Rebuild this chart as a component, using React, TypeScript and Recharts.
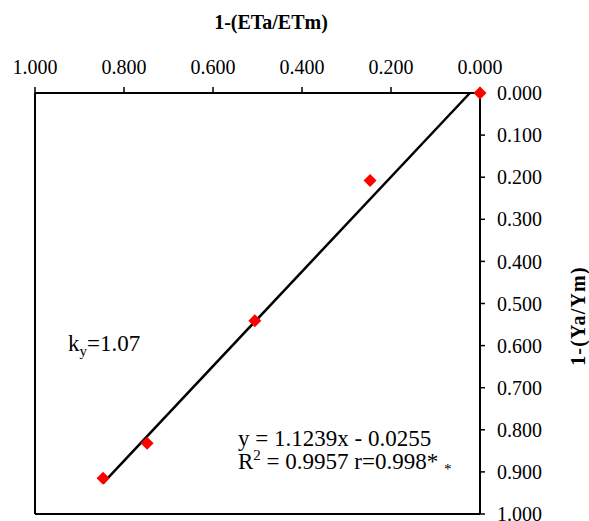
import { ScatterChart, Scatter, XAxis, YAxis, ReferenceLine } from "recharts"

// 1-(ETa/ETm) vs 1-(Ya/Ym)
const etDeficit = [0.0, 0.247, 0.506, 0.748, 0.847]
const yieldDeficit = [0.0, 0.208, 0.541, 0.832, 0.915]
const xTicks = [0, 0.2, 0.4, 0.6, 0.8, 1]
const yTicks = [0, 0.1, 0.2, 0.3, 0.4, 0.5, 0.6, 0.7, 0.8, 0.9, 1]

// Excel linear trendline coefficients
const slope = 1.1239
const intercept = -0.0255

const FONT = "'Liberation Serif', 'Times New Roman', serif"

const points = etDeficit.map((x, i) => ({ x, y: yieldDeficit[i] }))

// trend runs from the smallest to the largest x, clipped at the top of the plot (y = 0)
const xMin = Math.max(Math.min(...etDeficit), -intercept / slope)
const xMax = Math.max(...etDeficit)
const trend = [xMin, xMax].map((x) => ({ x, y: slope * x + intercept }))

const Diamond = (props: any) => {
  const { cx, cy } = props
  const r = 6.5
  return (
    <polygon
      points={`${cx},${cy - r} ${cx + r},${cy} ${cx},${cy + r} ${cx - r},${cy}`}
      fill="#ff0000"
    />
  )
}

const tickStyle = { fill: "#000", fontSize: 20, fontFamily: FONT }

export default function App() {
  return (
    <div
      style={{
        position: "absolute",
        left: 0,
        top: 0,
        width: 589,
        height: 521,
        overflow: "hidden",
        background: "#fff",
      }}
    >
      <ScatterChart width={589} height={521} margin={{ top: 33, right: 29, left: 35, bottom: 7 }}>
        <XAxis
          type="number"
          dataKey="x"
          orientation="top"
          reversed
          domain={[0, 1]}
          ticks={xTicks}
          interval={0}
          tickFormatter={(v: number) => v.toFixed(3)}
          tick={tickStyle}
          tickSize={6}
          tickMargin={13}
          height={60}
          axisLine={{ stroke: "#000", strokeWidth: 2 }}
          tickLine={{ stroke: "#000", strokeWidth: 1.5 }}
        />
        <YAxis
          type="number"
          dataKey="y"
          orientation="right"
          reversed
          domain={[0, 1]}
          ticks={yTicks}
          interval={0}
          tickFormatter={(v: number) => v.toFixed(3)}
          tick={tickStyle}
          tickSize={5}
          tickMargin={12}
          width={80}
          axisLine={{ stroke: "#000", strokeWidth: 2 }}
          tickLine={{ stroke: "#000", strokeWidth: 1.5 }}
        />
        <ReferenceLine x={1} stroke="#000" strokeWidth={2} />
        <ReferenceLine y={1} stroke="#000" strokeWidth={2} />
        <Scatter
          data={trend}
          line={{ stroke: "#000", strokeWidth: 2.5 }}
          shape={() => null}
          isAnimationActive={false}
        />
        <Scatter data={points} shape={Diamond} isAnimationActive={false} />
      </ScatterChart>
      <svg
        width={589}
        height={521}
        style={{ position: "absolute", left: 0, top: 0, pointerEvents: "none" }}
        fontFamily={FONT}
      >
        <text x={271} y={29} textAnchor="middle" fontSize={20} fontWeight="bold">
          1-(ETa/ETm)
        </text>
        <text
          x={585}
          y={316}
          textAnchor="middle"
          fontSize={20}
          fontWeight="bold"
          letterSpacing={1.2}
          transform="rotate(-90 585 316)"
        >
          1-(Ya/Ym)
        </text>
        <text x={68} y={351} fontSize={23}>
          k<tspan fontSize={15} dy={5}>y</tspan>
          <tspan dy={-5}>=1.07</tspan>
        </text>
        <text x={238} y={446} fontSize={23}>
          y = 1.1239x - 0.0255
        </text>
        <text x={238} y={469} fontSize={23}>
          R<tspan fontSize={15} dy={-9}>2</tspan>
          <tspan dy={9}> = 0.9957 r=0.998* </tspan>
          <tspan fontSize={15} dy={5}>*</tspan>
        </text>
      </svg>
    </div>
  )
}
